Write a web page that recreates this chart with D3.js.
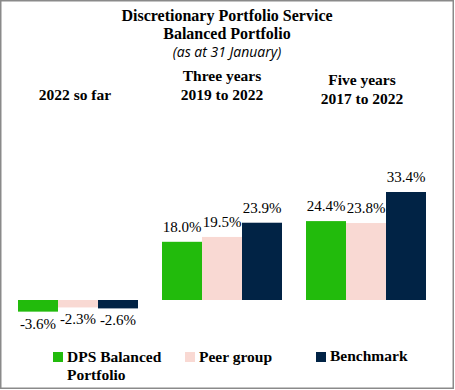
<!DOCTYPE html>
<html><head><meta charset="utf-8">
<script src="https://cdn.jsdelivr.net/npm/d3@7"></script>
<style>
html,body{margin:0;padding:0;background:#fff;}
svg{display:block;}
</style></head>
<body>
<svg id="chart" width="455" height="390"></svg>
<script>
const periods = ["2022 so far", "Three years", "Five years"];
const periodLines = [["2022 so far"], ["Three years", "2019 to 2022"], ["Five years", "2017 to 2022"]];
const seriesNames = ["DPS Balanced Portfolio", "Peer group", "Benchmark"];
const dpsValues = [-3.6, 18.0, 24.4];
const peerValues = [-2.3, 19.5, 23.8];
const benchmarkValues = [-2.6, 23.9, 33.4];
const seriesColors = ["#22bb0c", "#f9d9d3", "#012345"];

const seriesValues = [dpsValues, peerValues, benchmarkValues];
const rows = [];
periods.forEach((p, i) => seriesNames.forEach((s, j) => rows.push({period: p, series: s, value: seriesValues[j][i], j})));

const svg = d3.select("#chart");
const serif = "'Liberation Serif', 'DejaVu Serif', serif";

svg.append("rect").attr("x", 0.75).attr("y", 0.75).attr("width", 452.5).attr("height", 387.5)
  .attr("fill", "#fff").attr("stroke", "#8a8a8a").attr("stroke-width", 1.5);

const x0 = d3.scaleBand().domain(periods).range([6, 438]).paddingInner(1/6).paddingOuter(1/12);
const x1 = d3.scaleBand().domain(seriesNames).range([0, x0.bandwidth()]);
const k = 108 / 33.4;
const y = d3.scaleLinear().domain([-5, 35]).range([300 + 5 * k, 300 - 35 * k]);

// titles
const title = svg.append("g").attr("font-family", serif).attr("text-anchor", "middle").attr("fill", "#000");
title.append("text").attr("x", 227).attr("y", 20.5).attr("font-size", 16).attr("font-weight", "bold").text("Discretionary Portfolio Service");
title.append("text").attr("x", 227).attr("y", 39).attr("font-size", 16).attr("font-weight", "bold").text("Balanced Portfolio");
svg.append("text").attr("x", 227).attr("y", 57).attr("text-anchor", "middle")
  .attr("font-family", "'Open Sans', 'Liberation Sans', sans-serif").attr("font-style", "italic")
  .attr("font-size", 14).text("(as at 31 January)");

// period headers
const headerY = [[100], [81, 100], [85, 104]];
const headerDx = [-3, 0, -4];
periods.forEach((p, i) => {
  periodLines[i].forEach((line, li) => {
    svg.append("text").attr("x", x0(p) + x0.bandwidth() / 2 + headerDx[i]).attr("y", headerY[i][li])
      .attr("text-anchor", "middle").attr("font-family", serif).attr("font-weight", "bold")
      .attr("font-size", 15.5).text(line);
  });
});

// bars
svg.append("g").selectAll("rect").data(rows).join("rect")
  .attr("x", d => x0(d.period) + x1(d.series))
  .attr("width", x1.bandwidth())
  .attr("y", d => Math.min(y(d.value), y(0)))
  .attr("height", d => Math.abs(y(d.value) - y(0)))
  .attr("fill", d => seriesColors[d.j]);

// labels
svg.append("g").selectAll("text").data(rows).join("text")
  .attr("x", d => x0(d.period) + x1(d.series) + x1.bandwidth() / 2)
  .attr("y", d => d.value >= 0 ? y(d.value) - 10 : y(d.value) + 17)
  .attr("text-anchor", "middle").attr("font-family", serif).attr("font-size", 15)
  .text(d => d.value.toFixed(1) + "%");

// legend
const legendX = [53, 185, 316];
const legend = svg.append("g").attr("font-family", serif).attr("font-weight", "bold").attr("font-size", 15.5);
seriesNames.forEach((s, j) => {
  legend.append("rect").attr("x", legendX[j]).attr("y", 352).attr("width", 10).attr("height", 10).attr("fill", seriesColors[j]);
});
legend.append("text").attr("x", 67).attr("y", 362).text("DPS Balanced");
legend.append("text").attr("x", 67).attr("y", 380).text("Portfolio");
legend.append("text").attr("x", 199).attr("y", 362).text("Peer group");
legend.append("text").attr("x", 330).attr("y", 361).text("Benchmark");
</script>
</body></html>
